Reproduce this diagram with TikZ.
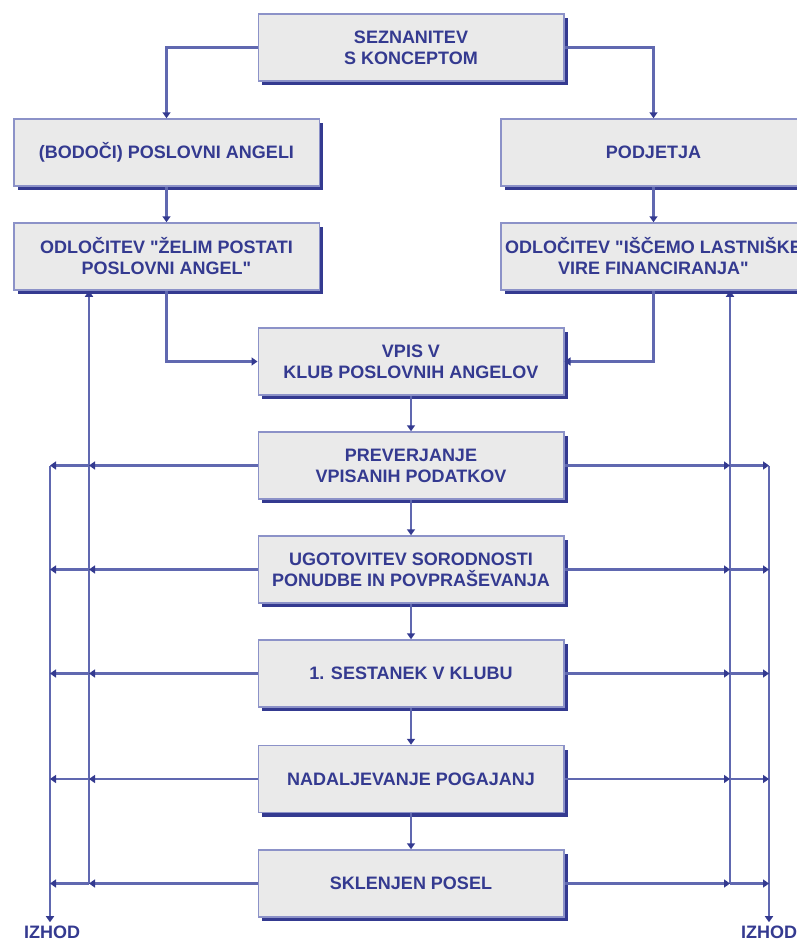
\documentclass[tikz,border=0pt]{standalone}
\usepackage{fontspec}
\setmainfont{Liberation Sans}[Ligatures=TeXOff]
\usetikzlibrary{arrows.meta,shadows}
\definecolor{navy}{HTML}{343A90}
\definecolor{lineblue}{HTML}{6068B0}
\definecolor{edgeblue}{HTML}{8C92C8}
\definecolor{boxfill}{HTML}{EAEAEA}
\begin{document}
\begin{tikzpicture}[x=1pt,y=-1pt,
  box/.style={draw=edgeblue, line width=1.5pt, fill=boxfill,
    minimum width=305.5pt, minimum height=67pt, inner sep=0pt,
    align=center, text=navy, font=\bfseries\fontsize{18}{21}\selectfont,
    drop shadow={shadow xshift=4pt, shadow yshift=-4pt, fill=navy, opacity=1}},
  conn/.style={draw=lineblue, line width=2.5pt},
  arr/.style={conn, -{Triangle[length=6pt,width=8pt,color=navy]}},
  exitlabel/.style={anchor=base, inner sep=3pt, text=navy, font=\bfseries\fontsize{18}{21}\selectfont},
]
\useasboundingbox (0,0) rectangle (797,940);

\node[box] (top) at (411,47.5) {SEZNANITEV\\S KONCEPTOM};
\node[box] (lb1) at (166.5,152.5) {(BODOČI) POSLOVNI ANGELI};
\node[box] (rb1) at (653.5,152.5) {PODJETJA};
\node[box] (lb2) at (166.5,256.5) {ODLOČITEV "ŽELIM POSTATI\\POSLOVNI ANGEL"};
\node[box] (rb2) at (653.5,256.5) {ODLOČITEV "IŠČEMO LASTNIŠKE\\VIRE FINANCIRANJA"};
\node[box] (vpis) at (411,361.5) {VPIS V\\KLUB POSLOVNIH ANGELOV};
\node[box] (pre) at (411,465.5) {PREVERJANJE\\VPISANIH PODATKOV};
\node[box] (ugo) at (411,569.5) {UGOTOVITEV SORODNOSTI\\PONUDBE IN POVPRAŠEVANJA};
\node[box] (ses) at (411,673.5) {1. SESTANEK V KLUBU};
\node[box] (nad) at (411,779) {NADALJEVANJE POGAJANJ};
\node[box] (skl) at (411,883.5) {SKLENJEN POSEL};

\node[exitlabel] (izl) at (52,938) {IZHOD};
\node[exitlabel] (izr) at (769,938) {IZHOD};

\coordinate (xL1) at (89,0);
\coordinate (xL2) at (50,0);
\coordinate (xR1) at (730,0);
\coordinate (xR2) at (769,0);

% top connectors
\draw[arr] (top.west) -| (lb1.north);
\draw[arr] (top.east) -| (rb1.north);
\draw[arr] (lb1.south) -- (lb2.north);
\draw[arr] (rb1.south) -- (rb2.north);
\draw[arr] (lb2.south) |- (vpis.west);
\draw[arr] (rb2.south) |- (vpis.east);

% main chain
\draw[arr] (vpis.south) -- (pre.north);
\draw[arr] (pre.south) -- (ugo.north);
\draw[arr] (ugo.south) -- (ses.north);
\draw[arr] (ses.south) -- (nad.north);
\draw[arr] (nad.south) -- (skl.north);

% side verticals
\draw[arr] (skl.west -| xL1) -- (lb2.south -| xL1);
\draw[arr] (skl.east -| xR1) -- (rb2.south -| xR1);
\draw[arr] (pre.west -| xL2) -- (izl.north -| xL2);
\draw[arr] (pre.east -| xR2) -- (izr.north);

% side horizontals
\foreach \b in {pre,ugo,ses,nad,skl}{
  \draw[arr] (\b.west) -- (\b.west -| xL1);
  \draw[arr] (\b.west -| xL1) -- (\b.west -| xL2);
  \draw[arr] (\b.east) -- (\b.east -| xR1);
  \draw[arr] (\b.east -| xR1) -- (\b.east -| xR2);
}
\end{tikzpicture}
\end{document}
